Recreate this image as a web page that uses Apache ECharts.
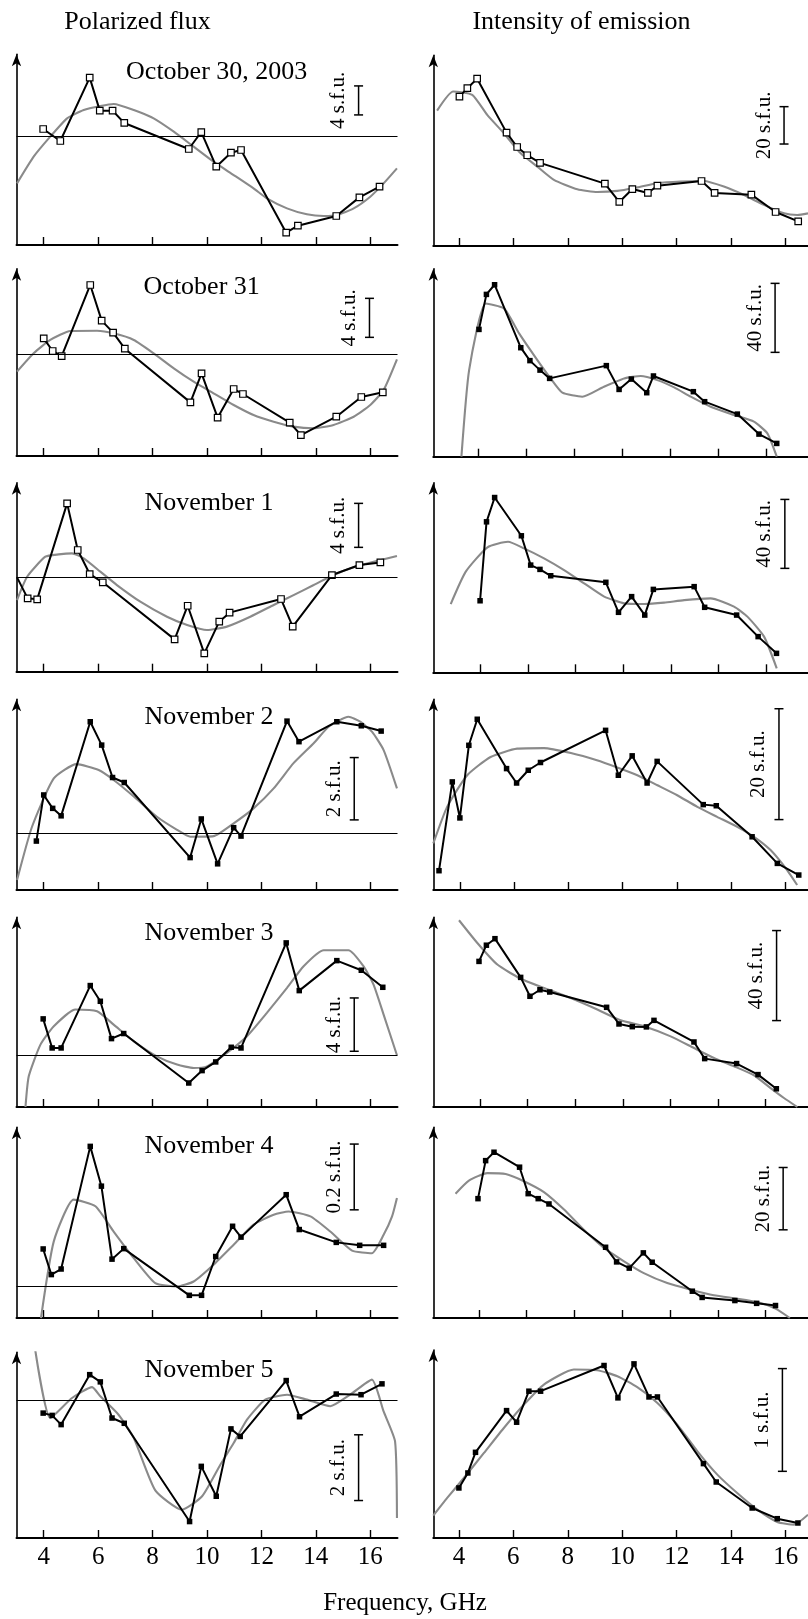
<!DOCTYPE html>
<html><head><meta charset="utf-8">
<script src="https://cdn.jsdelivr.net/npm/echarts@6/dist/echarts.min.js"></script>
<style>html,body{margin:0;padding:0;background:#fff}#c{width:808px;height:1619px}</style>
</head><body><div id="c"></div><script>
const FONT = "'Liberation Serif', 'Times New Roman', serif";
const tickFreqs = [4, 6, 8, 10, 12, 14, 16];
const columnTitles = ['Polarized flux', 'Intensity of emission'];
const xAxisName = 'Frequency, GHz';
const dates = ['October 30, 2003', 'October 31', 'November 1', 'November 2', 'November 3', 'November 4', 'November 5'];
const scaleLabelsPol = ['4 s.f.u.', '4 s.f.u.', '4 s.f.u.', '2 s.f.u.', '4 s.f.u.', '0.2 s.f.u.', '2 s.f.u.'];
const scaleLabelsInt = ['20 s.f.u.', '40 s.f.u.', '40 s.f.u.', '20 s.f.u.', '40 s.f.u.', '20 s.f.u.', '1 s.f.u.'];
// scale bars: [frequency, from, to] in s.f.u.
const scaleBarsPol = [[15.57,3,7],[15.97,1.71,5.71],[15.57,2.76,6.76],[15.41,0.43,2.43],[15.41,0.3,4.3],[15.41,0.231,0.431],[15.57,-3.05,-1.05]];
const scaleBarsInt = [[15.94,54.6,74.6],[16.36,60.5,100.5],[16.77,60.3,100.3],[15.76,12.7,32.7],[16.46,38.4,78.4],[16.73,28.3,48.3],[15.88,0.649,1.649]];

// ---- Polarized flux: measured points [GHz, s.f.u.]
const pol1 = [[3.98,1.06],[4.61,-0.60],[5.69,8.14],[6.06,3.59],[6.53,3.59],[6.96,1.89],[9.33,-1.70],[9.79,0.64],[10.34,-4.14],[10.88,-2.21],[11.25,-1.84],[12.91,-13.24],[13.34,-12.28],[14.75,-10.94],[15.60,-8.37],[16.34,-6.90]];
const pol2 = [[4.0,1.61],[4.33,0.31],[4.66,-0.21],[5.71,7.08],[6.13,3.42],[6.55,2.19],[6.98,0.55],[9.39,-4.96],[9.80,-1.98],[10.39,-6.53],[10.98,-3.59],[11.32,-4.10],[13.04,-7.04],[13.45,-8.31],[14.75,-6.43],[15.67,-4.41],[16.46,-3.93]];
const pol3 = [[3.02,0.03],[3.41,-1.88],[3.76,-1.97],[4.86,6.76],[5.25,2.52],[5.69,0.33],[6.17,-0.42],[8.81,-5.61],[9.29,-2.55],[9.90,-6.88],[10.45,-4.0],[10.83,-3.18],[12.72,-1.94],[13.15,-4.45],[14.59,0.24],[15.60,1.15],[16.37,1.39]];
const pol4 = [[3.73,-0.25],[4.0,1.23],[4.33,0.80],[4.64,0.56],[5.71,3.58],[6.13,2.83],[6.53,1.79],[6.96,1.63],[9.38,-0.78],[9.79,0.46],[10.39,-0.98],[10.98,0.18],[11.25,-0.09],[12.94,3.60],[13.38,2.94],[14.77,3.58],[15.67,3.45],[16.40,3.28]];
const pol5 = [[3.98,2.73],[4.31,0.55],[4.64,0.55],[5.71,5.23],[6.08,4.05],[6.49,1.25],[6.94,1.63],[9.33,-2.08],[9.82,-1.15],[10.32,-0.50],[10.89,0.60],[11.25,0.55],[12.91,8.43],[13.39,4.85],[14.77,7.10],[15.67,6.38],[16.46,5.10]];
const pol6 = [[3.98,0.112],[4.28,0.034],[4.64,0.051],[5.71,0.424],[6.12,0.303],[6.51,0.081],[6.94,0.113],[9.35,-0.029],[9.80,-0.029],[10.32,0.089],[10.94,0.181],[11.25,0.148],[12.91,0.277],[13.39,0.171],[14.75,0.132],[15.61,0.123],[16.49,0.123]];
const pol7 = [[3.98,-0.39],[4.31,-0.46],[4.64,-0.74],[5.69,0.78],[6.08,0.56],[6.51,-0.54],[6.96,-0.70],[9.36,-3.69],[9.79,-2.01],[10.34,-2.92],[10.88,-0.87],[11.22,-1.10],[12.91,0.60],[13.40,-0.50],[14.75,0.19],[15.66,0.17],[16.43,0.50]];
// ---- Polarized flux: smooth fits
const polFit1 = [[3.02,-6.44],[3.63,-2.76],[4.24,0],[4.86,2.53],[5.47,3.68],[6.08,4.23],[6.57,4.51],[7.31,3.68],[8.04,2.53],[8.78,0.69],[9.51,-1.38],[10.24,-3.45],[10.98,-5.29],[11.71,-7.13],[12.20,-8.51],[12.94,-9.89],[13.67,-10.71],[14.29,-10.94],[14.78,-10.80],[15.39,-9.89],[16.0,-8.28],[16.49,-6.44],[16.98,-4.37]];
const polFit2 = [[3.02,-1.81],[3.63,0.07],[4.24,1.44],[4.98,2.36],[5.96,2.39],[6.57,2.12],[7.31,1.44],[8.04,0.07],[8.78,-1.47],[9.51,-2.84],[10.24,-4.03],[10.98,-5.23],[11.71,-6.26],[12.45,-6.94],[13.18,-7.45],[13.92,-7.62],[14.65,-7.28],[15.39,-6.43],[16.0,-5.23],[16.49,-3.69],[16.98,-0.55]];
const polFit3 = [[3.02,-2.03],[3.39,0.09],[4.06,1.91],[4.55,2.12],[5.04,2.21],[5.47,1.76],[6.08,0.55],[6.69,-0.67],[7.55,-2.18],[8.53,-3.55],[9.27,-4.30],[10.0,-4.76],[10.73,-4.45],[11.59,-3.55],[12.45,-2.48],[13.18,-1.58],[13.92,-0.67],[14.65,0.24],[15.39,0.94],[16.12,1.45],[16.98,1.97]];
const polFit4 = [[3.02,-1.50],[3.57,0.21],[4.37,1.76],[5.20,2.22],[6.02,2.03],[6.57,1.71],[7.31,1.18],[8.16,0.53],[8.90,0.11],[9.39,-0.11],[10.24,-0.09],[10.98,0.32],[11.71,0.80],[12.45,1.44],[13.18,2.25],[13.92,2.89],[14.47,3.42],[15.20,3.74],[15.63,3.58],[16.06,3.26],[16.49,2.67],[16.98,1.44]];
const polFit5 = [[3.33,-3.88],[3.45,-1.58],[3.88,0.80],[4.37,2.18],[5.16,3.43],[5.96,3.30],[6.57,2.30],[7.31,1.05],[8.16,-0.08],[8.90,-0.70],[9.51,-0.95],[10.0,-0.83],[10.73,0.18],[11.47,1.43],[12.20,3.18],[12.94,5.05],[13.55,6.68],[14.29,7.88],[15.20,7.88],[15.75,6.68],[16.12,5.30],[16.49,3.05],[16.98,0]];
const polFit6 = [[3.90,-0.098],[4.37,0.135],[5.10,0.262],[5.90,0.242],[6.57,0.165],[7.31,0.084],[8.10,0.008],[8.90,-0.002],[9.51,0.013],[10.24,0.064],[10.98,0.125],[11.71,0.186],[12.45,0.216],[13.00,0.226],[13.80,0.211],[14.53,0.165],[15.33,0.107],[16.06,0.099],[16.49,0.155],[16.80,0.211],[16.98,0.267]];
const polFit7 = [[3.69,1.52],[4.24,-0.54],[5.04,0.07],[5.78,0.40],[6.08,0.12],[6.75,-0.44],[7.31,-1.15],[8.10,-2.74],[9.08,-3.33],[9.82,-2.92],[10.49,-1.96],[10.98,-1.30],[11.47,-0.59],[12.14,0.02],[12.94,0.17],[13.67,0.02],[14.53,-0.18],[15.26,0.17],[16.06,0.63],[16.49,-0.34],[16.91,-1.25],[16.98,-3.58]];

// ---- Intensity: measured points [GHz, s.f.u.]
const int1 = [[4.02,80.0],[4.31,84.5],[4.67,89.6],[5.75,60.7],[6.14,53.0],[6.51,48.6],[6.98,44.5],[9.36,33.4],[9.89,23.6],[10.37,30.5],[10.94,28.4],[11.29,32.3],[12.91,34.8],[13.39,28.4],[14.74,27.5],[15.63,18.2],[16.46,13.2]];
const int2 = [[4.04,73.8],[4.35,94.1],[4.69,99.7],[5.78,63.2],[6.16,55.7],[6.58,50.2],[6.98,45.4],[9.34,52.8],[9.87,39.0],[10.38,45.0],[11.02,37.1],[11.30,46.8],[12.96,37.7],[13.43,31.9],[14.79,24.7],[15.69,13.1],[16.43,7.7]];
const int3 = [[4.0,41.5],[4.27,87.3],[4.61,101.4],[5.73,79.2],[6.12,62.2],[6.51,59.7],[6.96,56.0],[9.27,52.2],[9.80,34.8],[10.35,43.9],[10.90,33.2],[11.26,48.1],[12.97,49.7],[13.41,37.7],[14.75,33.2],[15.65,20.7],[16.42,11.0]];
const int4 = [[3.23,3.48],[3.72,19.5],[4.0,13.0],[4.33,26.1],[4.64,30.8],[5.72,21.9],[6.09,19.3],[6.52,21.6],[6.97,23.0],[9.37,28.8],[9.84,20.7],[10.35,24.2],[10.90,19.3],[11.27,23.2],[12.97,15.4],[13.45,15.2],[14.77,9.6],[15.70,4.8],[16.49,2.7]];
const int5 = [[3.96,64.7],[4.27,71.9],[4.63,74.8],[5.71,57.6],[6.10,49.2],[6.52,52.1],[6.93,51.1],[9.32,44.3],[9.84,36.9],[10.40,35.7],[10.99,35.6],[11.31,38.5],[12.99,28.9],[13.44,21.5],[14.78,19.3],[15.68,14.4],[16.45,8.1]];
const int6 = [[3.96,38.3],[4.28,50.5],[4.63,53.2],[5.70,48.4],[6.06,39.9],[6.48,38.3],[6.93,36.6],[9.30,22.7],[9.76,18.0],[10.29,16.0],[10.88,20.9],[11.25,17.9],[12.93,8.6],[13.34,6.6],[14.71,5.6],[15.62,4.7],[16.41,4.0]];
const int7 = [[4.0,0.487],[4.33,0.633],[4.61,0.834],[5.75,1.240],[6.12,1.127],[6.57,1.429],[7.00,1.429],[9.33,1.679],[9.84,1.364],[10.43,1.695],[10.98,1.373],[11.29,1.373],[12.98,0.724],[13.45,0.545],[14.77,0.292],[15.69,0.188],[16.45,0.146]];
// ---- Intensity: smooth fits
const intFit1 = [[3.20,72.5],[3.79,82.7],[4.49,80.9],[5.04,70.2],[5.65,60.4],[6.27,49.6],[6.88,42.5],[7.49,35.4],[8.35,30.4],[9.08,28.9],[9.82,29.5],[10.55,31.4],[11.29,33.6],[12.14,34.5],[13.0,34.8],[13.73,31.8],[14.47,27.3],[15.20,22.0],[15.94,17.5],[16.43,16.6],[16.82,17.5]];
const intFit2 = [[3.31,0],[3.63,50.2],[4.32,88.8],[5.08,86.0],[5.71,71.5],[6.47,56.0],[7.02,45.4],[7.51,37.1],[8.34,34.8],[9.24,40.6],[10.08,45.4],[10.77,46.8],[11.46,44.4],[12.16,40.2],[12.85,34.8],[13.68,29.0],[14.65,24.2],[15.48,20.3],[16.04,13.5],[16.43,0]];
const intFit3 = [[2.77,39.6],[3.40,58.4],[4.31,72.5],[5.17,75.7],[5.84,71.9],[6.68,66.1],[7.52,59.3],[8.36,51.6],[9.20,43.9],[10.03,40.0],[10.87,39.6],[11.71,40.4],[12.55,41.9],[13.66,42.9],[14.64,38.1],[15.20,32.3],[15.90,20.7],[16.43,2.3]];
const intFit4 = [[3.02,8.4],[3.53,15.0],[4.27,20.7],[5.13,24.0],[6.11,25.5],[7.10,25.6],[8.09,24.7],[9.05,23.4],[9.80,22.1],[10.54,20.7],[11.28,18.9],[12.01,17.1],[12.75,15.0],[13.48,13.2],[14.22,11.4],[14.84,9.6],[15.45,7.2],[16.06,3.6],[16.43,0.9]];
const intFit5 = [[3.12,83.0],[3.89,72.9],[4.73,63.3],[5.71,57.0],[6.69,52.9],[7.81,48.4],[8.93,43.3],[9.91,38.5],[10.89,35.9],[12.01,31.4],[12.99,26.2],[13.83,21.8],[14.67,18.1],[15.51,14.1],[16.21,8.4],[16.77,4.0],[17.33,0]];
const intFit6 = [[3.02,39.9],[3.58,44.1],[4.35,46.5],[5.12,46.2],[5.88,43.9],[6.72,40.4],[7.56,34.8],[8.39,28.3],[9.23,22.5],[10.07,18.2],[10.90,14.4],[11.88,11.2],[12.86,9.1],[13.83,7.3],[14.81,6.2],[15.65,5.1],[16.41,3.0],[17.01,0]];
const intFit7 = [[3.06,0.218],[3.57,0.390],[4.18,0.584],[4.92,0.828],[5.65,1.071],[6.39,1.299],[7.12,1.494],[8.22,1.640],[9.08,1.633],[9.82,1.575],[10.55,1.468],[11.29,1.315],[12.02,1.104],[12.76,0.844],[13.49,0.617],[14.22,0.438],[14.96,0.276],[15.69,0.156],[16.31,0.130],[16.82,0.227]];

const polData = [pol1, pol2, pol3, pol4, pol5, pol6, pol7];
const polFits = [polFit1, polFit2, polFit3, polFit4, polFit5, polFit6, polFit7];
const intData = [int1, int2, int3, int4, int5, int6, int7];
const intFits = [intFit1, intFit2, intFit3, intFit4, intFit5, intFit6, intFit7];

// ---- axis ranges and layout
const yRangePol = [[-14.94,11.36],[-10.46,8.75],[-8.55,8.64],[-1.82,4.30],[-3.88,10.35],[-0.098,0.482],[-4.19,1.46]];
const yRangeInt = [[0,102.1],[0,109.0],[0,110.0],[0,34.4],[0,84.3],[0,61.2],[0,1.83]];
const xRangePol = [3, 17];
const xRangeInt = [[3.06,16.82],[2.14,17.73],[2.04,17.74],[3.02,16.83],[2.04,17.78],[2.09,17.77],[3.06,16.82]];
const layoutL = [[54.3,245],[268.7,456],[482.7,671.7],[699.3,890],[917.3,1107],[1127.3,1318],[1352.3,1538]];
const layoutR = [[55.3,246],[268.7,456.7],[482.7,672.3],[699.3,890],[917.3,1107],[1127.3,1318],[1350,1538]];
const datePos = [[216.7,71.7],[201.7,286.7],[209,503.3],[209,716.7],[209,933],[209,1146.3],[209,1369.7]];
const hollowPol = [true, true, true, false, false, false, false];
const hollowInt = [true, false, false, false, false, false, false];

const grids = [], xAxes = [], yAxes = [], series = [], graphics = [];

function scaleBarSeries(k, bar, label) {
  return {
    type: 'custom', xAxisIndex: k, yAxisIndex: k, data: [bar], clip: false, silent: true, z: 5,
    renderItem: (params, api) => {
      const a = api.coord([api.value(0), api.value(1)]);
      const b = api.coord([api.value(0), api.value(2)]);
      const cx = a[0];
      const ls = { stroke: '#000', lineWidth: 1.5 };
      return { type: 'group', children: [
        { type: 'line', shape: { x1: cx, y1: a[1], x2: cx, y2: b[1] }, style: ls },
        { type: 'line', shape: { x1: cx - 4.5, y1: a[1], x2: cx + 4.5, y2: a[1] }, style: ls },
        { type: 'line', shape: { x1: cx - 4.5, y1: b[1], x2: cx + 4.5, y2: b[1] }, style: ls },
        { type: 'text', x: cx - 20, y: (a[1] + b[1]) / 2, rotation: Math.PI / 2,
          style: { text: label, font: '21px ' + FONT, fill: '#000', align: 'center', verticalAlign: 'middle' } }
      ] };
    }
  };
}

function addPanel(k, row, isPol) {
  const lay = isPol ? layoutL[row] : layoutR[row];
  if (isPol) grids.push({ left: 16.5, width: 381, top: lay[0], height: lay[1] - lay[0] });
  else grids.push({ left: 433.3, right: 0, top: lay[0], height: lay[1] - lay[0] });
  const xr = isPol ? xRangePol : xRangeInt[row];
  const yr = isPol ? yRangePol[row] : yRangeInt[row];
  xAxes.push({
    type: 'value', gridIndex: k, min: xr[0], max: xr[1],
    axisLine: { show: true, onZero: false, lineStyle: { color: '#000', width: 2 } },
    axisTick: { show: true, inside: true, length: 8, customValues: tickFreqs, lineStyle: { color: '#000', width: 1.4 } },
    axisLabel: { show: row === 6, customValues: tickFreqs, fontFamily: FONT, fontSize: 25, color: '#000', margin: 7 },
    splitLine: { show: false }
  });
  yAxes.push({
    type: 'value', gridIndex: k, min: yr[0], max: yr[1],
    axisLine: { show: true, onZero: false, symbol: ['none', 'arrow'], symbolSize: [7, 12], lineStyle: { color: '#000', width: 1.6 } },
    axisTick: { show: false }, axisLabel: { show: false }, splitLine: { show: false }
  });
  const fit = isPol ? polFits[row] : intFits[row];
  const pts = isPol ? polData[row] : intData[row];
  const hollow = isPol ? hollowPol[row] : hollowInt[row];
  series.push({
    type: 'line', xAxisIndex: k, yAxisIndex: k, data: fit, symbol: 'none', smooth: 0.18,
    lineStyle: { color: '#8a8a8a', width: 2.1 }, z: 2, silent: true
  });
  const blk = {
    type: 'line', xAxisIndex: k, yAxisIndex: k,
    data: pts.map((p, i) => (isPol && row === 2 && i === 0) ? { value: p, symbol: 'none' } : p),
    symbol: 'rect', symbolSize: hollow ? 6.5 : 5.5,
    itemStyle: hollow ? { color: '#fff', borderColor: '#000', borderWidth: 1.2 } : { color: '#000', borderWidth: 0 },
    lineStyle: { color: '#000', width: 2 }, z: 3, silent: true
  };
  if (isPol) {
    blk.markLine = { silent: true, symbol: ['none', 'none'], label: { show: false },
      lineStyle: { color: '#000', width: 1.2, type: 'solid' }, data: [{ yAxis: 0 }] };
  }
  series.push(blk);
  series.push(scaleBarSeries(k, isPol ? scaleBarsPol[row] : scaleBarsInt[row], isPol ? scaleLabelsPol[row] : scaleLabelsInt[row]));
}

for (let r = 0; r < 7; r++) {
  addPanel(r * 2, r, true);
  addPanel(r * 2 + 1, r, false);
  graphics.push({ type: 'text', x: datePos[r][0], y: datePos[r][1],
    style: { text: dates[r], font: '26px ' + FONT, fill: '#000', align: 'center', verticalAlign: 'middle' } });
}
graphics.push({ type: 'text', x: 137.5, y: 22, style: { text: columnTitles[0], font: '26px ' + FONT, fill: '#000', align: 'center', verticalAlign: 'middle' } });
graphics.push({ type: 'text', x: 581.5, y: 22, style: { text: columnTitles[1], font: '26px ' + FONT, fill: '#000', align: 'center', verticalAlign: 'middle' } });
graphics.push({ type: 'text', x: 405, y: 1603, style: { text: xAxisName, font: '25px ' + FONT, fill: '#000', align: 'center', verticalAlign: 'middle' } });

const chart = echarts.init(document.getElementById('c'), null, { renderer: 'canvas' });
chart.setOption({
  animation: false,
  backgroundColor: '#fff',
  grid: grids, xAxis: xAxes, yAxis: yAxes, series: series, graphic: graphics
});
</script></body></html>
